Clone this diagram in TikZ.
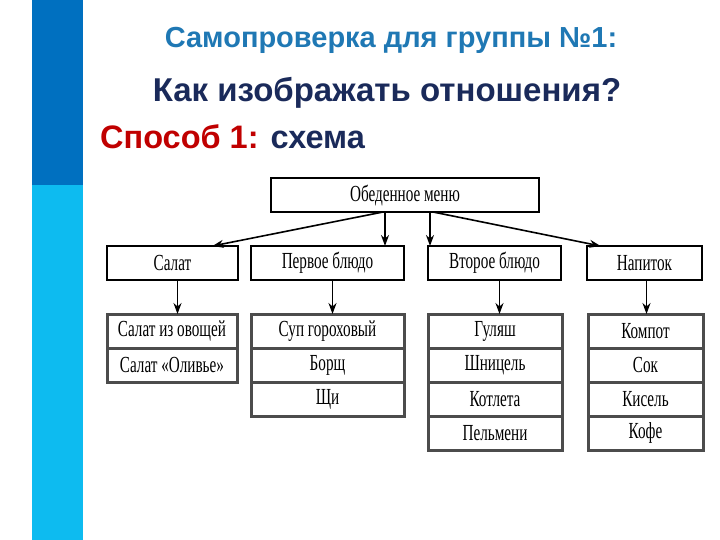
\documentclass[tikz,border=0pt]{standalone}
\usepackage{fontspec}
\setmainfont{Liberation Sans}
\newfontfamily\schemefont[FakeStretch=0.66]{Liberation Serif}
\usetikzlibrary{positioning}
\usetikzlibrary{arrows.meta}
\definecolor{bardark}{HTML}{0070C0}
\definecolor{barlight}{HTML}{0DBBF0}
\definecolor{titleblue}{HTML}{1F78B4}
\definecolor{navy}{HTML}{1A2A5A}
\definecolor{wayred}{HTML}{C00000}
\tikzstyle{head} = [rectangle, minimum height=34pt, inner sep=0pt, outer sep=0pt, text centered, draw=black, line width=2.8pt, font=\schemefont\fontsize{23}{23}\selectfont]
\tikzstyle{item} = [rectangle, minimum height=34pt, inner sep=0pt, outer sep=0pt, text centered, draw=black!70, line width=3pt, font=\schemefont\fontsize{23}{23}\selectfont]
\tikzstyle{arrow} = [line width=1.6pt,-{Stealth[length=11pt,width=8pt]}]

\begin{document}
\begin{tikzpicture}[x=1pt, y=-1pt, node distance=0pt]
\useasboundingbox (0,0) rectangle (720,540);
\fill[bardark] (32,0) rectangle (83,185);
\fill[barlight] (32,185) rectangle (83,540);

% titles
\node (title) [font=\bfseries\fontsize{29}{29}\selectfont, text=titleblue] at (391,40) {Самопроверка для группы №1:};
\node (question) [font=\bfseries\fontsize{33}{33}\selectfont, text=navy] at (387,93) {Как изображать отношения?};
\node (way) [anchor=west, font=\bfseries\fontsize{32.5}{32.5}\selectfont, text=navy, inner sep=0pt] at (100,137) {\textcolor{wayred}{Способ 1:} схема};

% scheme
\node (menu) [head, minimum width=268pt] at (405,195) {Обеденное меню};
\node (salat) [head, minimum width=131pt] at (172.5,263) {Салат};
\node (pervoe) [head, minimum width=153pt] at (327.5,263) {Первое блюдо};
\node (vtoroe) [head, minimum width=133pt] at (494.5,263) {Второе блюдо};
\node (napitok) [head, minimum width=115pt] at (644.5,263) {Напиток};

\node (salat1) [item, minimum width=130pt] at (172,331) {Салат из овощей};
\node (salat2) [item, minimum width=130pt, below=of salat1] {Салат «Оливье»};

\node (pervoe1) [item, minimum width=153pt] at (327.5,331) {Суп гороховый};
\node (pervoe2) [item, minimum width=153pt, below=of pervoe1] {Борщ};
\node (pervoe3) [item, minimum width=153pt, below=of pervoe2] {Щи};

\node (vtoroe1) [item, minimum width=134pt] at (495,331) {Гуляш};
\node (vtoroe2) [item, minimum width=134pt, below=of vtoroe1] {Шницель};
\node (vtoroe3) [item, minimum width=134pt, below=of vtoroe2] {Котлета};
\node (vtoroe4) [item, minimum width=134pt, below=of vtoroe3] {Пельмени};

\node (napitok1) [item, minimum width=115pt] at (645.5,331) {Компот};
\node (napitok2) [item, minimum width=115pt, below=of napitok1] {Сок};
\node (napitok3) [item, minimum width=115pt, below=of napitok2] {Кисель};
\node (napitok4) [item, minimum width=115pt, below=of napitok3] {Кофе};

\draw [arrow] ([xshift=-22pt]menu.south) -- ([xshift=40pt]salat.north);
\draw [arrow] ([xshift=-20pt]menu.south) -- ([xshift=-20pt]menu.south |- pervoe.north);
\draw [arrow] ([xshift=25pt]menu.south) -- ([xshift=25pt]menu.south |- vtoroe.north);
\draw [arrow] ([xshift=28pt]menu.south) -- ([xshift=-44pt]napitok.north);

\draw [arrow] ([xshift=5pt]salat.south) -- ([xshift=5pt]salat.south |- salat1.north);
\draw [arrow] ([xshift=5pt]pervoe.south) -- ([xshift=5pt]pervoe.south |- pervoe1.north);
\draw [arrow] ([xshift=5pt]vtoroe.south) -- ([xshift=5pt]vtoroe.south |- vtoroe1.north);
\draw [arrow] ([xshift=2pt]napitok.south) -- ([xshift=2pt]napitok.south |- napitok1.north);

\end{tikzpicture}
\end{document}
